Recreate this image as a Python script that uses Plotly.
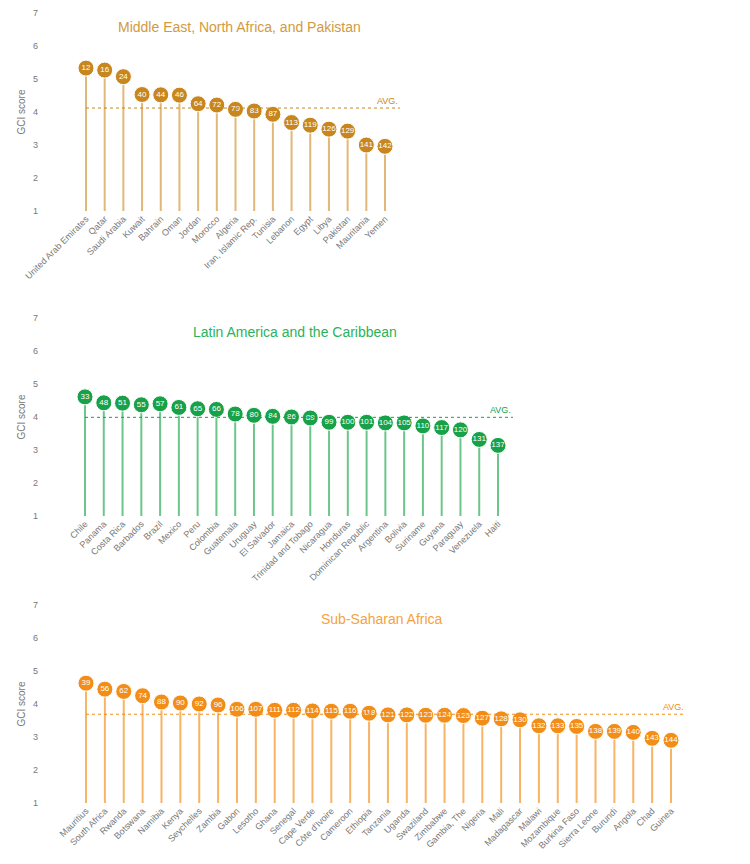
import plotly.graph_objects as go

H, W = 864, 750

mena_names = ["United Arab Emirates", "Qatar", "Saudi Arabia", "Kuwait", "Bahrain", "Oman", "Jordan",
              "Morocco", "Algeria", "Iran, Islamic Rep.", "Tunisia", "Lebanon", "Egypt", "Libya",
              "Pakistan", "Mauritania", "Yemen"]
mena_rank = [12, 16, 24, 40, 44, 46, 64, 72, 79, 83, 87, 113, 119, 126, 129, 141, 142]
mena_score = [5.33, 5.27, 5.07, 4.53, 4.52, 4.51, 4.25, 4.21, 4.08, 4.03, 3.93, 3.68, 3.60, 3.48,
              3.42, 3.00, 2.96]
mena_avg = 4.12

lac_names = ["Chile", "Panama", "Costa Rica", "Barbados", "Brazil", "Mexico", "Peru", "Colombia",
             "Guatemala", "Uruguay", "El Salvador", "Jamaica", "Trinidad and Tobago", "Nicaragua",
             "Honduras", "Dominican Republic", "Argentina", "Bolivia", "Suriname", "Guyana",
             "Paraguay", "Venezuela", "Haiti"]
lac_rank = [33, 48, 51, 55, 57, 61, 65, 66, 78, 80, 84, 86, 89, 99, 100, 101, 104, 105, 110, 117,
            120, 131, 137]
lac_score = [4.61, 4.43, 4.42, 4.37, 4.40, 4.29, 4.25, 4.23, 4.09, 4.05, 4.02, 4.00, 3.97, 3.84,
             3.84, 3.84, 3.82, 3.82, 3.73, 3.68, 3.61, 3.32, 3.14]
lac_avg = 3.99

ssa_names = ["Mauritius", "South Africa", "Rwanda", "Botswana", "Namibia", "Kenya", "Seychelles",
             "Zambia", "Gabon", "Lesotho", "Ghana", "Senegal", "Cape Verde", "Côte d'Ivoire",
             "Cameroon", "Ethiopia", "Tanzania", "Uganda", "Swaziland", "Zimbabwe", "Gambia, The",
             "Nigeria", "Mali", "Madagascar", "Malawi", "Mozambique", "Burkina Faso",
             "Sierra Leone", "Burundi", "Angola", "Chad", "Guinea"]
ssa_rank = [39, 56, 62, 74, 88, 90, 92, 96, 106, 107, 111, 112, 114, 115, 116, 118, 121, 122, 123,
            124, 125, 127, 128, 130, 132, 133, 135, 138, 139, 140, 143, 144]
ssa_score = [4.63, 4.45, 4.38, 4.25, 4.06, 4.03, 4.00, 3.97, 3.84, 3.84, 3.81, 3.81, 3.79, 3.78,
             3.78, 3.72, 3.67, 3.67, 3.66, 3.66, 3.65, 3.57, 3.55, 3.52, 3.34, 3.34, 3.32, 3.17,
             3.17, 3.14, 2.96, 2.90]
ssa_avg = 3.69

panels = [
    dict(title="Middle East, North Africa, and Pakistan", names=mena_names, rank=mena_rank,
         score=mena_score, avg=mena_avg, dot="#c8861e", stem="#e2b777", tcol="#d29a3e",
         ypx=(5, 203), xpx=(78, 377)),
    dict(title="Latin America and the Caribbean", names=lac_names, rank=lac_rank,
         score=lac_score, avg=lac_avg, dot="#17a148", stem="#6cc68b", tcol="#2cb25a",
         ypx=(310, 508), xpx=(77, 490)),
    dict(title="Sub-Saharan Africa", names=ssa_names, rank=ssa_rank,
         score=ssa_score, avg=ssa_avg, dot="#f28d17", stem="#f7b464", tcol="#f5a340",
         ypx=(597, 795), xpx=(78, 663)),
]

fig = go.Figure()
layout = {}
shapes, annotations = [], []
for i, p in enumerate(panels):
    k = "" if i == 0 else str(i + 1)
    xa, ya = "x" + k, "y" + k
    n = len(p["names"])
    step = (p["xpx"][1] - p["xpx"][0]) / (n - 1)
    lo, hi = -0.5, n - 0.1
    x0 = (p["xpx"][0] + lo * step) / W
    x1 = (p["xpx"][0] + hi * step) / W
    idx = list(range(n))
    sx, sy = [], []
    for j, s in zip(idx, p["score"]):
        sx += [j, j, None]
        sy += [1, s, None]
    fig.add_trace(go.Scatter(x=sx, y=sy, mode="lines", line=dict(color=p["stem"], width=2),
                             xaxis=xa, yaxis=ya, showlegend=False, hoverinfo="skip"))
    fig.add_trace(go.Scatter(x=idx, y=p["score"], mode="markers+text",
                             text=[str(r) for r in p["rank"]], textposition="middle center",
                             textfont=dict(size=8, color="white", family="Liberation Sans"),
                             marker=dict(size=16, color=p["dot"], line=dict(width=1, color="white")),
                             xaxis=xa, yaxis=ya, showlegend=False, cliponaxis=False))
    layout["xaxis" + k] = dict(domain=[x0, x1], range=[lo, hi], anchor=ya, automargin=False,
                               tickmode="array", tickvals=idx, ticktext=p["names"],
                               tickangle=-45, showgrid=False, zeroline=False, showline=False,
                               ticks="", tickfont=dict(size=9, color="#777"))
    layout["yaxis" + k] = dict(domain=[1 - p["ypx"][1] / H, 1 - p["ypx"][0] / H], range=[1, 7],
                               anchor="free", position=0.04, dtick=1, showgrid=False,
                               automargin=False, zeroline=False, showline=False, ticks="",
                               tickfont=dict(size=9, color="#777"),
                               title=dict(text="GCI score", standoff=4,
                                          font=dict(size=10, color="#777")))
    shapes.append(dict(type="line", xref=xa, yref=ya, x0=0, x1=n - 0.2, y0=p["avg"], y1=p["avg"],
                       line=dict(color=p["dot"], width=1, dash="dot")))
    annotations.append(dict(xref=xa, yref=ya, x=n - 0.2, y=p["avg"], text="AVG.",
                            showarrow=False, xanchor="right", yanchor="bottom",
                            font=dict(size=9, color=p["dot"])))
    annotations.append(dict(xref="paper", yref="paper", x=(x0 + x1) / 2,
                            y=1 - (p["ypx"][0] + 14) / H, text=p["title"], showarrow=False,
                            xanchor="center", yanchor="middle",
                            font=dict(size=14, color=p["tcol"])))

fig.update_layout(**layout)
fig.update_layout(width=W, height=H, margin=dict(l=0, r=0, t=0, b=0, autoexpand=False),
                  plot_bgcolor="white", paper_bgcolor="white",
                  font=dict(family="Liberation Sans, Arial, sans-serif"),
                  shapes=shapes, annotations=annotations)
fig.write_html("out.html")
